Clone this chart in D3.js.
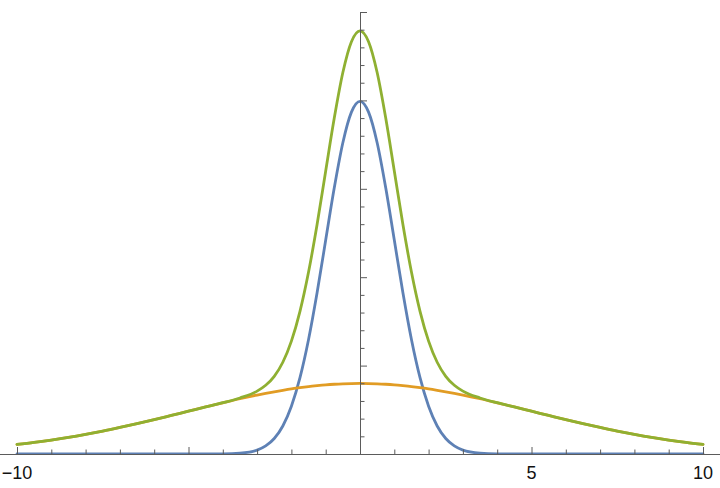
<!DOCTYPE html>
<html>
<head>
<meta charset="utf-8">
<script src="https://cdn.jsdelivr.net/npm/d3@7"></script>
<style>
  html, body { margin: 0; padding: 0; background: #fff; }
  svg { display: block; }
</style>
</head>
<body>
<svg id="chart" width="720" height="488"></svg>
<script>
// x sample positions
const xs = [-10,-9.5,-9,-8.5,-8,-7.5,-7,-6.5,-6,-5.5,-5,-4.5,-4,-3.5,-3,-2.75,-2.5,-2.25,-2,-1.75,-1.5,-1.25,-1,-0.75,-0.5,-0.25,
            0,0.25,0.5,0.75,1,1.25,1.5,1.75,2,2.25,2.5,2.75,3,3.5,4,4.5,5,5.5,6,6.5,7,7.5,8,8.5,9,9.5,10];
// blue (narrow peak)
const blueVals = [0,0,0,0,0,0,0,0,0,0,0,0,0.0001,0.0009,0.0044,0.0091,0.0175,0.0317,0.054,0.0863,0.1295,0.1826,0.242,0.3011,0.3521,0.3867,
            0.3989,0.3867,0.3521,0.3011,0.242,0.1826,0.1295,0.0863,0.054,0.0317,0.0175,0.0091,0.0044,0.0009,0.0001,0,0,0,0,0,0,0,0,0,0,0,0];
// orange (wide low hump)
const orangeVals = [0.0108,0.0131,0.0158,0.0188,0.0222,0.0259,0.0300,0.0343,0.0388,0.0436,0.0484,0.0532,0.0579,0.0625,0.0667,0.0686,0.0704,0.0721,0.0737,0.0751,0.0763,0.0773,0.0782,0.0789,0.0794,0.0797,
            0.0798,0.0797,0.0794,0.0789,0.0782,0.0773,0.0763,0.0751,0.0737,0.0721,0.0704,0.0686,0.0667,0.0625,0.0579,0.0532,0.0484,0.0436,0.0388,0.0343,0.0300,0.0259,0.0222,0.0188,0.0158,0.0131,0.0108];
// green (sum of both)
const greenVals = [0.0108,0.0131,0.0158,0.0188,0.0222,0.0259,0.0300,0.0343,0.0388,0.0436,0.0484,0.0532,0.0580,0.0634,0.0711,0.0777,0.0879,0.1038,0.1277,0.1614,0.2058,0.2599,0.3202,0.3800,0.4315,0.4664,
            0.4787,0.4664,0.4315,0.3800,0.3202,0.2599,0.2058,0.1614,0.1277,0.1038,0.0879,0.0777,0.0711,0.0634,0.0580,0.0532,0.0484,0.0436,0.0388,0.0343,0.0300,0.0259,0.0222,0.0188,0.0158,0.0131,0.0108];
const xTickLabels = [-10, 5, 10];
const xMajorTicks = [-10, -5, 5, 10];
const xMinorTicks = [-9,-8,-7,-6,-4,-3,-2,-1,1,2,3,4,6,7,8,9];
const yMajorTicks = [0.1, 0.2, 0.3, 0.4, 0.5];
const yMinorTicks = [0.02,0.04,0.06,0.08,0.12,0.14,0.16,0.18,0.22,0.24,0.26,0.28,0.32,0.34,0.36,0.38,0.42,0.44,0.46,0.48];

const seriesList = [
  { name: "narrow", values: blueVals, color: "#5E81B5" },
  { name: "wide", values: orangeVals, color: "#E19C24" },
  { name: "sum", values: greenVals, color: "#8FB032" }
];

const svg = d3.select("#chart");
const x = d3.scaleLinear().domain([-10, 10]).range([17, 703]);
const y = d3.scaleLinear().domain([0, 0.5]).range([454, 12]);
const axisColor = "#5b5b5b";

svg.append("defs").append("clipPath").attr("id", "clip")
  .append("rect").attr("x", 0).attr("y", 0).attr("width", 720).attr("height", y(0));

const line = d3.line().x((d, i) => x(xs[i])).y(d => y(d)).curve(d3.curveMonotoneX);

const plot = svg.append("g").attr("clip-path", "url(#clip)");
seriesList.forEach(s => {
  plot.append("path").datum(s.values)
    .attr("fill", "none").attr("stroke", s.color)
    .attr("stroke-width", 2.8).attr("stroke-linejoin", "round").attr("stroke-linecap", "round")
    .attr("d", line);
});

// X axis
const xAxis = d3.axisTop(x).tickValues(xMajorTicks).tickSize(7).tickFormat("");
const gx = svg.append("g").attr("transform", `translate(0,${y(0)})`).call(xAxis);
const gxm = svg.append("g").attr("transform", `translate(0,${y(0)})`)
  .call(d3.axisTop(x).tickValues(xMinorTicks).tickSize(4.5).tickFormat(""));
[gx, gxm].forEach(g => {
  g.select(".domain").attr("stroke", axisColor).attr("d", `M${x(-10) - 17},0.5H720`);
  g.selectAll(".tick line").attr("stroke", axisColor);
});
gxm.select(".domain").remove();
svg.append("g").selectAll("text").data(xTickLabels).join("text")
  .attr("x", d => x(d)).attr("y", 479)
  .attr("text-anchor", "middle")
  .attr("font-family", "Liberation Sans, Arial, sans-serif")
  .attr("font-size", 18).attr("fill", "#111")
  .text(d => d < 0 ? "\u2212" + Math.abs(d) : String(d));

// Y axis
const gy = svg.append("g").attr("transform", `translate(${x(0)},0)`)
  .call(d3.axisRight(y).tickValues(yMajorTicks).tickSize(7).tickFormat(""));
const gym = svg.append("g").attr("transform", `translate(${x(0)},0)`)
  .call(d3.axisRight(y).tickValues(yMinorTicks).tickSize(4.5).tickFormat(""));
gy.select(".domain").attr("stroke", axisColor).attr("d", `M0.5,${y(0.5)}V${y(0)}`);
gym.select(".domain").remove();
[gy, gym].forEach(g => g.selectAll(".tick line").attr("stroke", axisColor));
</script>
</body>
</html>
